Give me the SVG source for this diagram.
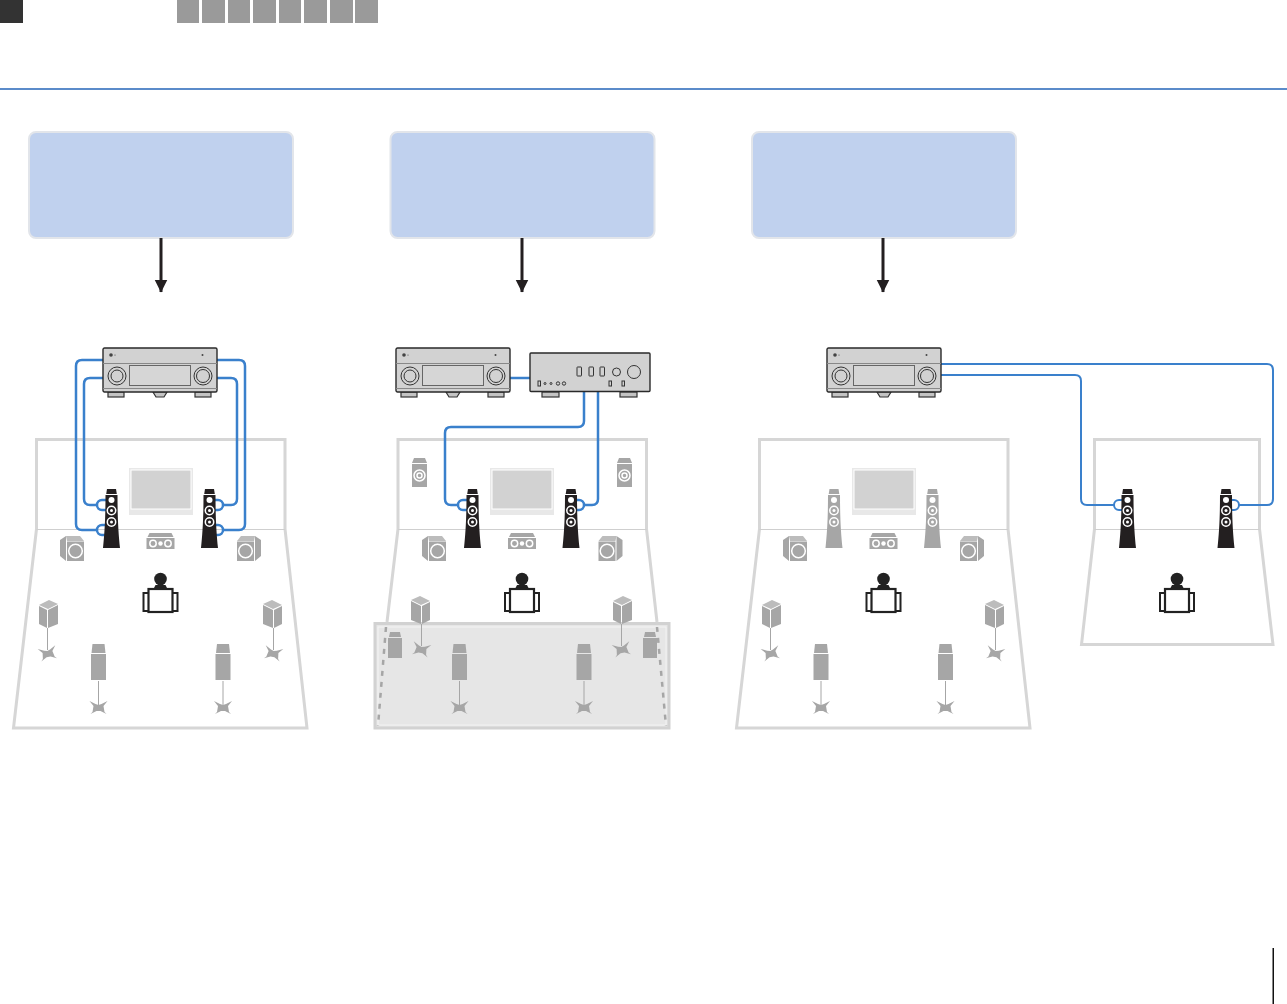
<svg xmlns="http://www.w3.org/2000/svg" xmlns:xlink="http://www.w3.org/1999/xlink" width="1287" height="1004" viewBox="0 0 1287 1004">
<style>
.wall{fill:none;stroke:#d6d6d6;stroke-width:3}
.back{fill:none;stroke:#cfcfcf;stroke-width:1}
.wire{fill:none;stroke:#3a80cc;stroke-width:2.500}
.thin{stroke-width:2}
.box{fill:#c0d1ee;stroke:#e2e5ea;stroke-width:2}
.tab{fill:#9a9a9a}
.g{fill:#a6a6a6}
.lt{fill:#bcbcbc}
.o{fill:none;stroke:#333;stroke-width:1}
.face{fill:#d2d2d2;stroke:#2a2a2a;stroke-width:1.400}
.ft{fill:#c4c4c4;stroke:#333;stroke-width:1.200}
.w{fill:none;stroke:#fff;stroke-width:1.500}
.wf{fill:#fff}
.ar{stroke:#231f20;stroke-width:3;fill:none}
</style>
<defs>
<marker id="ah" markerUnits="userSpaceOnUse" markerWidth="13" markerHeight="14" refX="12.500" refY="6.500" orient="auto"><path d="M0,0L13,6.500L0,13Z" fill="#231f20"/></marker>
<g id="receiver">
<rect x="5" y="44" width="16" height="5" class="ft"/><rect x="92" y="44" width="16" height="5" class="ft"/>
<path d="M50,44H64L61,49H53Z" class="ft"/>
<rect x="0" y="0" width="114" height="44" rx="1.500" class="face"/>
<path d="M0,15.500H114M0,40.500H114" stroke="#888" stroke-width="1" fill="none"/>
<rect x="26.500" y="17.500" width="61" height="20" fill="#d6d6d6" stroke="#666" stroke-width="1"/>
<circle cx="14" cy="28" r="9" class="o"/><circle cx="14" cy="28" r="6" class="o"/>
<circle cx="100" cy="28" r="9" class="o"/><circle cx="100" cy="28" r="6.500" class="o"/>
<circle cx="8" cy="7" r="1.800" fill="#444"/><circle cx="12" cy="7" r=".6" fill="#444"/><circle cx="99.500" cy="7" r="1" fill="#444"/>
</g>
<g id="tower">
<path d="M-4.500,0H4.500L5.300,5H-5.300Z"/>
<path d="M-6,6H6C6,30 7,45 8.500,59H-8.500C-7,45 -6,30 -6,6Z"/>
<circle cy="11" r="3" class="wf"/>
<circle cy="21.500" r="4.200" class="w"/><circle cy="21.500" r="1.500" class="wf"/>
<circle cy="33" r="4.200" class="w"/><circle cy="33" r="1.500" class="wf"/>
</g>
<g id="center">
<path d="M3,0H25L27,4H1Z" class="g"/><rect y="5" width="28" height="11" class="g"/>
<circle cx="6.500" cy="10.500" r="3.200" class="w"/><circle cx="14" cy="10.500" r="2.200" class="wf"/><circle cx="21.500" cy="10.500" r="3.200" class="w"/>
</g>
<g id="subL">
<path d="M6,0H20L24,5H7Z" class="lt"/><path d="M0,4L6,0V25L0,20Z" class="g"/><rect x="7" y="5.500" width="17" height="19.500" class="g"/>
<circle cx="15.500" cy="15" r="6.800" class="w"/>
</g>
<g id="subR">
<path d="M18,0H4L0,5H17Z" class="lt"/><path d="M24,4L18,0V25L24,20Z" class="g"/><rect x="0" y="5.500" width="17" height="19.500" class="g"/>
<circle cx="8.500" cy="15" r="6.800" class="w"/>
</g>
<g id="person" fill="#222">
<circle cy="0" r="6.300"/><path d="M-5,6H5L7,10H-7Z"/>
<rect x="-12" y="10" width="24" height="23" fill="#fff" stroke="#222" stroke-width="2.200"/>
<path d="M-12,14H-17V32H-12M12,14H17V32H12" fill="none" stroke="#222" stroke-width="2"/>
</g>
<path id="base" d="M-9,-5L-3,-2L0,-1L3,-2L9,-5L5,0L6,6L8,8L2,5H-2L-8,8L-6,6L-5,0Z" fill="#a6a6a6"/>
<g id="rear">
<path d="M-6,0H6L7,9H-7Z" class="g"/><rect x="-7.500" y="10" width="15" height="26" class="g"/>
<path d="M0,37V62" stroke="#a6a6a6" stroke-width="1" fill="none"/><use xlink:href="#base" y="62"/>
</g>
<g id="surrL">
<path d="M1,5L11,0L20,4L10,9Z" class="lt"/><path d="M1,6L9,10V28L1,24ZM10,10L20,5V24L10,28Z" class="g"/>
<path d="M9.500,28V50" stroke="#a6a6a6" stroke-width="1" fill="none"/><use xlink:href="#base" x="9.500" y="52" transform="rotate(-12 9.500 52)"/>
</g>
<g id="surrR">
<path d="M19,5L9,0L0,4L10,9Z" class="lt"/><path d="M19,6L11,10V28L19,24ZM10,10L0,5V24L10,28Z" class="g"/>
<path d="M10.500,28V50" stroke="#a6a6a6" stroke-width="1" fill="none"/><use xlink:href="#base" x="10.500" y="52" transform="rotate(12 10.500 52)"/>
</g>
<g id="tv">
<rect width="64" height="47" fill="#e8e8e8"/>
<rect x="2" y="2" width="60" height="39" fill="#d2d2d2" stroke="#fff" stroke-width="1"/>
</g>
<g id="height">
<path d="M2,0H13L15,5H0Z" class="g"/><rect y="6" width="15" height="23" class="g"/>
<circle cx="7.500" cy="17.500" r="5.500" class="w"/><circle cx="7.500" cy="17.500" r="2.500" class="w"/>
</g>
<g id="mini">
<path d="M2,0H12L13,5H1Z" class="g"/><rect y="6" width="14" height="20" class="g"/>
</g>
</defs>
<rect width="1287" height="1004" fill="#fff"/>

<g id="header">
<rect width="23" height="23" fill="#333"/>
<rect class="tab" x="177" width="22" height="23"/><rect class="tab" x="202" width="23" height="23"/>
<rect class="tab" x="228" width="22" height="23"/><rect class="tab" x="253" width="23" height="23"/>
<rect class="tab" x="279" width="22" height="23"/><rect class="tab" x="304" width="23" height="23"/>
<rect class="tab" x="330" width="23" height="23"/><rect class="tab" x="355" width="23" height="23"/>
<rect y="88" width="1287" height="2" fill="#5b8bca"/>
<rect x="1272.500" y="948" width="1.500" height="56" fill="#111"/>
</g>

<g id="label-box-1"><rect class="box" x="29" y="132" width="264" height="106" rx="7"/></g>
<g id="label-box-2"><rect class="box" x="390.500" y="132" width="264" height="106" rx="7"/></g>
<g id="label-box-3"><rect class="box" x="752" y="132" width="264" height="106" rx="7"/></g>

<g id="rooms">
<g id="room-1">
<path class="wall" d="M36.500,529V439.500H285V529L307,728H13.500L36.500,529"/><path class="back" d="M36.500,529.500H285"/>
</g>
<g id="room-2">
<path class="wall" d="M398,529V439.500H646.500V529L657,622M387,622L398,529"/><path class="back" d="M398,529.500H646.500"/>
<rect x="375" y="623.500" width="294" height="104.500" fill="#e6e6e6" stroke="#d2d2d2" stroke-width="3"/>
<rect x="378" y="627" width="288" height="98" fill="none" stroke="#f3f3f3" stroke-width="1"/>
<path d="M386,627L378,726" stroke="#a6a6a6" stroke-width="2.500" stroke-dasharray="5 6" fill="none"/>
<path d="M657,627L666,726" stroke="#a6a6a6" stroke-width="2.500" stroke-dasharray="5 6" fill="none"/>
</g>
<g id="room-3">
<path class="wall" d="M759.500,529V439.500H1008V529L1030,728H736.500L759.500,529"/><path class="back" d="M759.500,529.500H1008"/>
</g>
<g id="room-4">
<path class="wall" d="M1094.500,529V439.500H1259.500V529L1273,644.500H1081.500L1094.500,529"/><path class="back" d="M1094.500,529.500H1259.500"/>
</g>
</g>

<g id="connectors">
<path class="ar" d="M161,238V292" marker-end="url(#ah)"/>
<path class="ar" d="M522,238V292" marker-end="url(#ah)"/>
<path class="ar" d="M883,238V292" marker-end="url(#ah)"/>
<path class="wire" d="M103,360H82Q76,360 76,366V524Q76,530 82,530H98"/>
<path class="wire" d="M103,378H90Q84,378 84,384V499Q84,505 90,505H98"/>
<path class="wire" d="M217,360H239Q245,360 245,366V524Q245,530 239,530H223"/>
<path class="wire" d="M217,378H231Q237,378 237,384V499Q237,505 231,505H223"/>
<path class="wire" d="M106,500H102A5,5 0 0 0 102,510H106M106,525H102A5,5 0 0 0 102,535H106"/>
<path class="wire" d="M206,500H218A5,5 0 0 1 218,510H206M206,525H218A5,5 0 0 1 218,535H206"/>
<path class="wire" d="M510,378H530"/>
<path class="wire" d="M584,392V421Q584,427 578,427H451Q445,427 445,433V499Q445,505 451,505H459"/>
<path class="wire" d="M598,392V499Q598,505 592,505H584"/>
<path class="wire" d="M467,500H463A5,5 0 0 0 463,510H467M567,500H579A5,5 0 0 1 579,510H567"/>
<path class="wire thin" d="M941,364H1267Q1273,364 1273,370V499Q1273,505 1267,505H1239"/>
<path class="wire thin" d="M941,375H1075Q1081,375 1081,381V499Q1081,505 1087,505H1115"/>
<path class="wire thin" d="M1123,500H1119A5,5 0 0 0 1119,510H1123M1221,500H1234A5,5 0 0 1 1234,510H1221"/>
</g>

<g id="receiver-1"><use xlink:href="#receiver" x="103" y="348"/></g>
<g id="receiver-2"><use xlink:href="#receiver" x="396" y="348"/></g>
<g id="receiver-3"><use xlink:href="#receiver" x="827" y="348"/></g>
<g id="amplifier">
<rect x="542" y="392" width="17" height="5" class="ft"/><rect x="620" y="392" width="17" height="5" class="ft"/>
<rect x="530" y="353" width="120" height="38.500" rx="1" class="face"/>
<g class="o" stroke-width=".9">
<rect x="577" y="367" width="4.500" height="9" rx=".5"/><rect x="589" y="367" width="4.500" height="9" rx=".5"/><rect x="600" y="367" width="4.500" height="9" rx=".5"/>
<circle cx="616.500" cy="372" r="4"/><circle cx="634" cy="372" r="6.500"/>
<rect x="538" y="381" width="2.500" height="5"/><circle cx="545" cy="383.500" r="1"/><circle cx="551" cy="383.500" r="1"/><circle cx="558" cy="383.500" r="1.700"/><circle cx="564" cy="383.500" r="1.700"/>
<rect x="609" y="381" width="2.500" height="5"/><rect x="622" y="381" width="2.500" height="5"/>
</g>
</g>

<g id="speakers-room-1">
<use xlink:href="#tv" x="129" y="468"/>
<use xlink:href="#tower" x="111.500" y="489" fill="#231f20"/><use xlink:href="#tower" x="209.500" y="489" fill="#231f20"/>
<use xlink:href="#center" x="146.500" y="533"/>
<use xlink:href="#subL" x="60" y="536"/><use xlink:href="#subR" x="237" y="536"/>
<use xlink:href="#person" x="160.500" y="579"/>
<use xlink:href="#surrL" x="38" y="600"/><use xlink:href="#surrR" x="263" y="600"/>
<use xlink:href="#rear" x="98.500" y="644"/><use xlink:href="#rear" x="223" y="644"/>
</g>
<g id="speakers-room-2">
<use xlink:href="#tv" x="490" y="468"/>
<use xlink:href="#height" x="412" y="458"/><use xlink:href="#height" x="617" y="458"/>
<use xlink:href="#tower" x="472.500" y="489" fill="#231f20"/><use xlink:href="#tower" x="571" y="489" fill="#231f20"/>
<use xlink:href="#center" x="508" y="533"/>
<use xlink:href="#subL" x="422" y="536"/><use xlink:href="#subR" x="598.500" y="536"/>
<use xlink:href="#person" x="522" y="579"/>
<use xlink:href="#surrR" x="411" y="596"/><use xlink:href="#surrL" x="612" y="596"/>
<use xlink:href="#mini" x="388" y="632"/><use xlink:href="#mini" x="643" y="632"/>
<use xlink:href="#rear" x="459.500" y="644"/><use xlink:href="#rear" x="584" y="644"/>
</g>
<g id="speakers-room-3">
<use xlink:href="#tv" x="852" y="468"/>
<use xlink:href="#tower" x="834" y="489" fill="#a6a6a6"/><use xlink:href="#tower" x="932.500" y="489" fill="#a6a6a6"/>
<use xlink:href="#center" x="869.500" y="533"/>
<use xlink:href="#subL" x="783" y="536"/><use xlink:href="#subR" x="960" y="536"/>
<use xlink:href="#person" x="883.500" y="579"/>
<use xlink:href="#surrL" x="761" y="600"/><use xlink:href="#surrR" x="985" y="600"/>
<use xlink:href="#rear" x="821" y="644"/><use xlink:href="#rear" x="945.500" y="644"/>
</g>
<g id="speakers-room-4">
<use xlink:href="#tower" x="1127.500" y="489" fill="#231f20"/><use xlink:href="#tower" x="1226" y="489" fill="#231f20"/>
<use xlink:href="#person" x="1177" y="579"/>
</g>
</svg>
